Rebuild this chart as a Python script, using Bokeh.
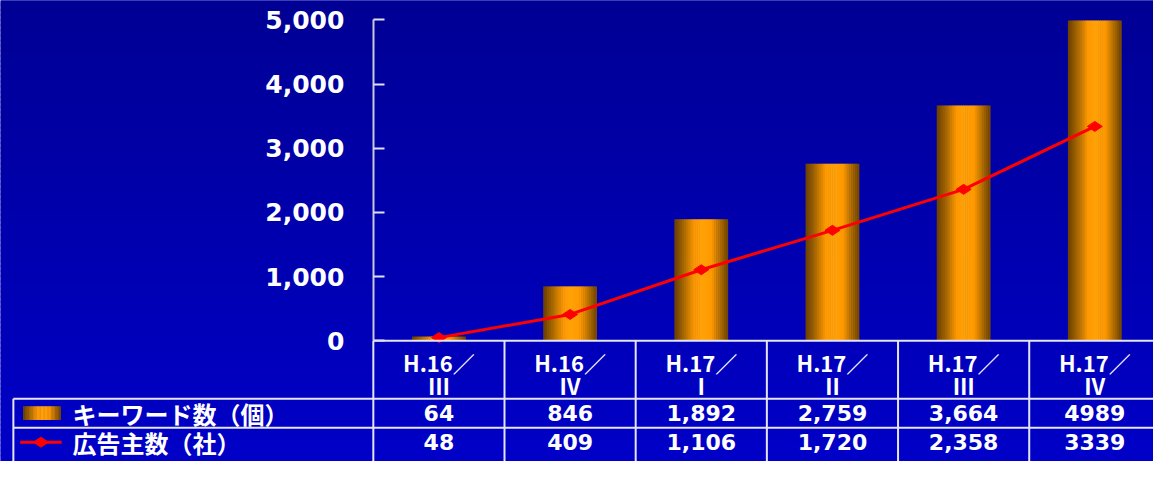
import math
from bokeh.plotting import figure
from bokeh.models import Range1d, LinearAxis, FixedTicker, NumeralTickFormatter, ColumnDataSource
from bokeh.core.properties import value
from bokeh.embed import file_html
from bokeh.resources import INLINE

# ---------------- data ----------------
period_top = ["H.16／", "H.16／", "H.17／", "H.17／", "H.17／", "H.17／"]
period_bottom = ["Ⅲ", "Ⅳ", "Ⅰ", "Ⅱ", "Ⅲ", "Ⅳ"]
keywords = [64, 846, 1892, 2759, 3664, 4989]
advertisers = [48, 409, 1106, 1720, 2358, 3339]
keyword_labels = ["64", "846", "1,892", "2,759", "3,664", "4989"]
advertiser_labels = ["48", "409", "1,106", "1,720", "2,358", "3339"]
series_names = ["キーワード数（個）", "広告主数（社）"]
y_ticks = [0, 1000, 2000, 3000, 4000, 5000]

# ---------------- layout ----------------
W, H = 1153, 461
X0, X1 = -2.8421, 5.9474          # category units (one column per unit)
Y0, Y1 = -1882.5, 5301.2          # value units
T_BOTTOM, T_TOP = 4.1667, -11.733  # table row units (downwards positive)

p = figure(width=W, height=H, output_backend="svg", toolbar_location=None,
           x_range=Range1d(X0, X1), y_range=Range1d(Y0, Y1),
           x_axis_type=None, y_axis_type=None, min_border=0,
           outline_line_color=None)
p.background_fill_color = "#0000AE"
p.border_fill_color = "#0000AE"
p.extra_y_ranges = {"table": Range1d(start=T_BOTTOM, end=T_TOP), "bg": Range1d(0, 1)}
p.extra_x_ranges = {"bg": Range1d(0, 1)}


def lerp_color(stops, t):
    for (t0, c0), (t1, c1) in zip(stops, stops[1:]):
        if t0 <= t <= t1:
            f = (t - t0) / (t1 - t0) if t1 > t0 else 0
            c = [round(a + (b - a) * f) for a, b in zip(c0, c1)]
            return "#%02x%02x%02x" % tuple(c)
    return "#%02x%02x%02x" % tuple(stops[-1][1])


# background vertical gradient
bg_stops = [(0.0, (0, 0, 0xC8)), (1.0, (0, 0, 0x94))]
nbg = 90
bg = ColumnDataSource(dict(
    bottom=[k / nbg for k in range(nbg)],
    top=[(k + 1) / nbg + 0.004 for k in range(nbg)],
    color=[lerp_color(bg_stops, (k + 0.5) / nbg) for k in range(nbg)],
))
p.quad(left=0, right=1, bottom="bottom", top="top", fill_color="color", line_color=None,
       x_range_name="bg", y_range_name="bg", source=bg)

# bar horizontal gradient (cylinder look)
bar_stops = [(0.0, (0x68, 0x3E, 0x00)), (0.18, (0xA8, 0x68, 0x00)), (0.38, (0xFF, 0x99, 0x00)),
             (0.52, (0xFF, 0xA2, 0x08)), (0.70, (0xFF, 0x99, 0x00)), (0.86, (0xB0, 0x6C, 0x00)),
             (1.0, (0x70, 0x44, 0x00))]
NS = 28
BW = 0.406
xs, tops, cols = [], [], []
for i, v in enumerate(keywords):
    for k in range(NS):
        xs.append(i + 0.5 - BW / 2 + (k + 0.5) * BW / NS)
        tops.append(v)
        cols.append(lerp_color(bar_stops, (k + 0.5) / NS))
p.vbar(x=xs, top=tops, bottom=0, width=BW / NS * 1.3, fill_color=cols, line_color=None)

# advertiser line
xc = [i + 0.5 for i in range(len(keywords))]
p.line(xc, advertisers, line_color="#FF0000", line_width=3)
p.scatter(xc, advertisers, marker="diamond", size=15, angle=math.pi / 2,
          fill_color="#FF0000", line_color="#FF0000")

# y axis
yax = LinearAxis(fixed_location=0, bounds=(0, 5000), ticker=FixedTicker(ticks=y_ticks),
                 formatter=NumeralTickFormatter(format="0,0"))
yax.axis_line_color = "#C8C8DC"
yax.axis_line_width = 2
yax.major_tick_in = 11
yax.major_tick_out = 0
yax.major_tick_line_color = "#E0E0F0"
yax.major_tick_line_width = 2
yax.minor_tick_line_color = None
yax.major_label_text_font = "DejaVu Sans"
yax.major_label_text_font_style = "bold"
yax.major_label_text_font_size = "25px"
yax.major_label_text_color = "white"
yax.major_label_standoff = 29
p.add_layout(yax, "left")

# ---------------- data table ----------------
LC = "#E4E4F4"
x_left = -2.744
ncat = len(keywords)
p.segment(x0=[0, x_left, x_left], y0=[0, 2, 3], x1=[ncat + 0.5] * 3, y1=[0, 2, 3],
          y_range_name="table", line_color=LC, line_width=2)
p.segment(x0=[x_left] + list(range(ncat)), y0=[2] + [0] * ncat,
          x1=[x_left] + list(range(ncat)), y1=[4.6] * (ncat + 1),
          y_range_name="table", line_color=LC, line_width=2)

# header
p.text(x=xc, y=[0.74] * ncat, text=period_top, y_range_name="table",
       text_font=value("Noto Sans CJK JP"), text_font_style="bold", text_font_size="22px",
       text_color="white", text_align="center", text_baseline="middle")
p.text(x=xc, y=[1.53] * ncat, text=period_bottom, y_range_name="table",
       text_font=value("Noto Sans CJK JP"), text_font_style="bold", text_font_size="22px",
       text_color="white", text_align="center", text_baseline="middle")

# values
p.text(x=xc, y=[2.5] * ncat, text=keyword_labels, y_range_name="table",
       text_font=value("DejaVu Sans"), text_font_style="bold", text_font_size="22px",
       text_color="white", text_align="center", text_baseline="middle")
p.text(x=xc, y=[3.5] * ncat, text=advertiser_labels, y_range_name="table",
       text_font=value("DejaVu Sans"), text_font_style="bold", text_font_size="22px",
       text_color="white", text_align="center", text_baseline="middle")

# series labels
p.text(x=[-2.293, -2.293], y=[2.5, 3.5], text=series_names, y_range_name="table",
       text_font=value("Noto Sans CJK JP"), text_font_style="bold", text_font_size="24px",
       text_color="white", text_align="left", text_baseline="middle")

# legend swatch: bar
sw_l, sw_r = -2.669, -2.383
sxs, scols = [], []
for k in range(NS):
    sxs.append(sw_l + (k + 0.5) * (sw_r - sw_l) / NS)
    scols.append(lerp_color(bar_stops, (k + 0.5) / NS))
p.rect(x=sxs, y=[2.5] * NS, width=(sw_r - sw_l) / NS * 1.3, height=0.47,
       fill_color=scols, line_color=None, y_range_name="table")

# legend swatch: line
p.line(x=[-2.692, -2.376], y=[3.5, 3.5], line_color="#FF0000", line_width=3, y_range_name="table")
p.scatter(x=[-2.534], y=[3.5], marker="diamond", size=15, angle=math.pi / 2,
          fill_color="#FF0000", line_color="#FF0000", y_range_name="table")

open("out.html", "w").write(file_html(p, INLINE))
